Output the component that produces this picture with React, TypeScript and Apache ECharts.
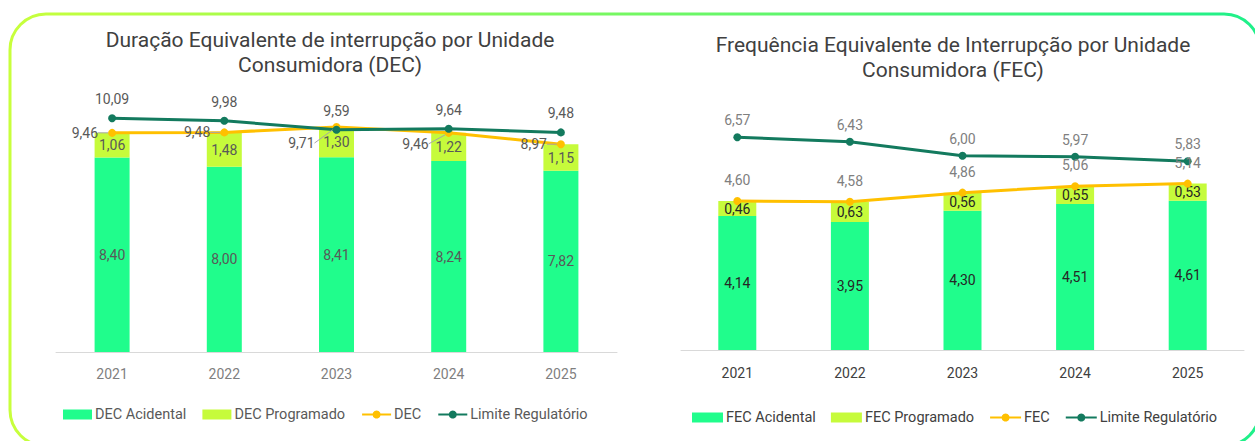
import React, { useEffect, useRef } from "react";
import * as echarts from "echarts";

const years = ["2021", "2022", "2023", "2024", "2025"];
const decAcidental = [8.4, 8.0, 8.41, 8.24, 7.82];
const decProgramado = [1.06, 1.48, 1.3, 1.22, 1.15];
const decTotal = [9.46, 9.48, 9.71, 9.46, 8.97];
const decLimite = [10.09, 9.98, 9.59, 9.64, 9.48];
const fecAcidental = [4.14, 3.95, 4.3, 4.51, 4.61];
const fecProgramado = [0.46, 0.63, 0.56, 0.55, 0.53];
const fecTotal = [4.6, 4.58, 4.86, 5.06, 5.14];
const fecLimite = [6.57, 6.43, 6.0, 5.97, 5.83];

const FONT = "Roboto";
const C_ACID = "#20fd8c";
const C_PROG = "#c6fb3b";
const C_TOTAL = "#ffc000";
const C_LIM = "#137a5e";

const fmt = (p: any) => Number(p.value).toFixed(2).replace(".", ",");

export default function App() {
  const ref = useRef<HTMLDivElement>(null);
  useEffect(() => {
    document.body.style.margin = "0";
    const chart = echarts.init(ref.current!, null, { renderer: "svg" });
    const lineBase = (name: string, color: string, data: any[], xi: number) => ({
      name,
      type: "line",
      xAxisIndex: xi,
      yAxisIndex: xi,
      data,
      symbol: "circle",
      symbolSize: 8,
      z: 5,
      lineStyle: { color, width: 3 },
      itemStyle: { color },
    });
    const option: any = {
      animation: false,
      textStyle: { fontFamily: FONT },
      graphic: [
        {
          type: "rect",
          shape: { x: 10, y: 14, width: 1250, height: 432, r: 36 },
          style: {
            fill: "none",
            lineWidth: 3,
            stroke: {
              type: "linear",
              x: 0,
              y: 0,
              x2: 1,
              y2: 0,
              colorStops: [
                { offset: 0, color: "#c8ff3c" },
                { offset: 1, color: "#1ef08a" },
              ],
            },
          },
        },
        {
          type: "text",
          x: 330,
          y: 27,
          style: {
            text: "Duração Equivalente de interrupção por Unidade\nConsumidora (DEC)",
            align: "center",
            fill: "#404040",
            font: `21px ${FONT}`,
            lineHeight: 25,
          },
        },
        {
          type: "text",
          x: 953,
          y: 32,
          style: {
            text: "Frequência Equivalente de Interrupção por Unidade\nConsumidora (FEC)",
            align: "center",
            fill: "#404040",
            font: `21px ${FONT}`,
            lineHeight: 25,
          },
        },
      ],
      legend: [
        {
          left: 63,
          top: 407,
          padding: 0,
          itemWidth: 29,
          itemHeight: 10,
          itemGap: 16,
          textStyle: { color: "#595959", fontSize: 14.5, fontFamily: FONT, padding: [0, 0, 0, -2] },
          data: [
            { name: "DEC Acidental", icon: "rect" },
            { name: "DEC Programado", icon: "rect" },
            { name: "DEC" },
            { name: "Limite Regulatório" },
          ],
        },
        {
          left: 692,
          top: 410,
          padding: 0,
          itemWidth: 31,
          itemHeight: 10,
          itemGap: 15,
          textStyle: { color: "#404040", fontSize: 14.5, fontFamily: FONT, padding: [0, 0, 0, -2] },
          data: [
            { name: "FEC Acidental", icon: "rect" },
            { name: "FEC Programado", icon: "rect" },
            { name: "FEC" },
            { name: "Limite Regulatório" },
          ],
        },
      ],
      grid: [
        { left: 56, top: 74, width: 561, height: 278 },
        { left: 681, top: 91, width: 563, height: 259 },
      ],
      xAxis: [
        {
          type: "category",
          gridIndex: 0,
          data: years,
          axisLine: { lineStyle: { color: "#d9d9d9" } },
          axisTick: { show: false },
          axisLabel: { color: "#7f7f7f", fontSize: 14, margin: 15, fontFamily: FONT },
        },
        {
          type: "category",
          gridIndex: 1,
          data: years,
          axisLine: { lineStyle: { color: "#d9d9d9" } },
          axisTick: { show: false },
          axisLabel: { color: "#404040", fontSize: 14, margin: 16, fontFamily: FONT },
        },
      ],
      yAxis: [
        { type: "value", gridIndex: 0, min: 0, max: 12, show: false },
        { type: "value", gridIndex: 1, min: 0, max: 8, show: false },
      ],
      series: [
        {
          name: "DEC Acidental",
          type: "bar",
          stack: "dec",
          barWidth: 35,
          data: decAcidental,
          itemStyle: { color: C_ACID },
          label: { show: true, position: "inside", color: "#595959", fontSize: 14, formatter: fmt },
        },
        {
          name: "DEC Programado",
          type: "bar",
          stack: "dec",
          barWidth: 35,
          data: decProgramado,
          itemStyle: { color: C_PROG },
          label: { show: true, position: "inside", color: "#595959", fontSize: 14, formatter: fmt },
        },
        {
          ...lineBase("DEC", C_TOTAL, decTotal, 0),
          label: { show: true, position: "left", distance: 10, color: "#595959", fontSize: 14, formatter: fmt },
          labelLine: { show: true, lineStyle: { color: "#a6a6a6", width: 1 } },
          labelLayout: (p: any) => {
            if (p.dataIndex === 2) return { dx: -8, dy: 16 };
            if (p.dataIndex === 3) return { dx: -6, dy: 11 };
            return {};
          },
        },
        {
          ...lineBase("Limite Regulatório", C_LIM, decLimite, 0),
          label: { show: true, position: "top", distance: 8, color: "#595959", fontSize: 14, formatter: fmt },
        },
        {
          name: "FEC Acidental",
          type: "bar",
          stack: "fec",
          xAxisIndex: 1,
          yAxisIndex: 1,
          barWidth: 38,
          data: fecAcidental,
          itemStyle: { color: C_ACID },
          label: { show: true, position: "inside", color: "#262626", fontSize: 14, formatter: fmt },
        },
        {
          name: "FEC Programado",
          type: "bar",
          stack: "fec",
          xAxisIndex: 1,
          yAxisIndex: 1,
          barWidth: 38,
          data: fecProgramado,
          itemStyle: { color: C_PROG },
          label: { show: true, position: "inside", color: "#262626", fontSize: 14, formatter: fmt },
        },
        {
          ...lineBase("FEC", C_TOTAL, fecTotal, 1),
          label: { show: true, position: "top", distance: 10, color: "#7f7f7f", fontSize: 14, formatter: fmt },
        },
        {
          ...lineBase("Limite Regulatório", C_LIM, fecLimite, 1),
          label: { show: true, position: "top", distance: 6, color: "#7f7f7f", fontSize: 14, formatter: fmt },
        },
      ],
    };
    chart.setOption(option);
    return () => chart.dispose();
  }, []);
  return <div ref={ref} style={{ width: 1255, height: 441 }} />;
}
